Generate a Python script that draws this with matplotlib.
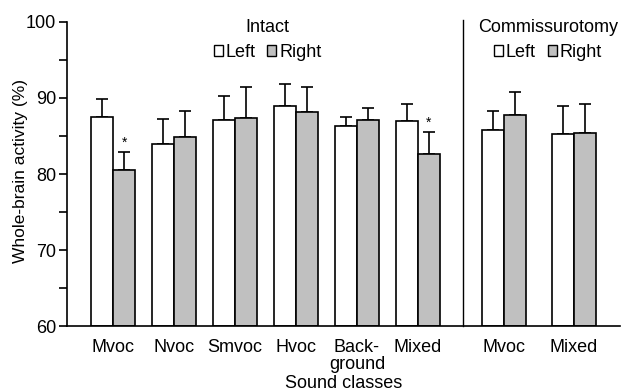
import matplotlib.pyplot as plt
from matplotlib.patches import Patch
from matplotlib.legend import Legend

plt.rcParams['font.family'] = ['Liberation Sans', 'DejaVu Sans']

# data
categories = ['Mvoc', 'Nvoc', 'Smvoc', 'Hvoc', 'Back-\nground', 'Mixed', 'Mvoc', 'Mixed']
positions = [0, 1, 2, 3, 4, 5, 6.41, 7.56]
left_vals = [87.5, 84.0, 87.1, 89.0, 86.3, 87.0, 85.8, 85.3]
left_err = [2.4, 3.2, 3.2, 2.8, 1.2, 2.2, 2.5, 3.6]
right_vals = [80.5, 84.9, 87.4, 88.1, 87.1, 82.6, 87.8, 85.4]
right_err = [2.4, 3.4, 4.1, 3.3, 1.6, 2.9, 3.0, 3.8]
signif = [0, 5]

fs = 13
fig = plt.figure(figsize=(6.21, 3.92), dpi=100)
ax = fig.add_axes([0.108, 0.168, 0.89, 0.776])

w = 0.36
lpos = [p - w / 2 for p in positions]
rpos = [p + w / 2 for p in positions]
ax.bar(lpos, [v - 60 for v in left_vals], w, bottom=60, color='white', edgecolor='black', linewidth=1.2, zorder=2)
ax.bar(rpos, [v - 60 for v in right_vals], w, bottom=60, color='#c0c0c0', edgecolor='black', linewidth=1.2, zorder=2)
ax.errorbar(lpos, left_vals, yerr=[[0] * 8, left_err], fmt='none', ecolor='black', elinewidth=1.2, capsize=4, capthick=1.2, zorder=1)
ax.errorbar(rpos, right_vals, yerr=[[0] * 8, right_err], fmt='none', ecolor='black', elinewidth=1.2, capsize=4, capthick=1.2, zorder=1)

for i in signif:
    ax.text(rpos[i], right_vals[i] + right_err[i] + 0.3, '*', ha='center', va='bottom', fontsize=10)

# divider between intact and commissurotomy
ax.plot([5.74, 5.74], [60, 100.3], color='black', linewidth=1.0, clip_on=False)

ax.set_ylim(60, 100)
ax.set_xlim(-0.754, 8.31)
ax.set_yticks([60, 70, 80, 90, 100])
ax.set_yticks([65, 75, 85, 95], minor=True)
ax.set_xticks(positions)
ax.set_xticklabels(categories, fontsize=fs, linespacing=1.0)
ax.tick_params(axis='y', which='both', labelsize=fs, direction='out', length=6, width=1.2, pad=2)
ax.tick_params(axis='x', length=0, pad=9)
ax.spines['top'].set_visible(False)
ax.spines['right'].set_visible(False)
ax.spines['left'].set_linewidth(1.2)
ax.spines['bottom'].set_linewidth(1.2)
ax.set_ylabel('Whole-brain activity (%)', fontsize=12.5)
ax.yaxis.set_label_coords(-0.07, 0.51)
ax.set_xlabel('Sound classes', fontsize=fs, labelpad=2)

handles = [Patch(facecolor='white', edgecolor='black', label='Left'),
           Patch(facecolor='#c0c0c0', edgecolor='black', label='Right')]
for title, xc in [('Intact', 0.363), ('Commissurotomy', 0.870)]:
    leg = Legend(ax, handles, ['Left', 'Right'], title=title, ncol=2, frameon=False, fontsize=fs,
                 title_fontsize=fs, handlelength=0.5, handleheight=0.5,
                 handletextpad=0.15, columnspacing=0.65, borderpad=0, labelspacing=0.45,
                 loc='upper center', bbox_to_anchor=(xc, 1.04))
    ax.add_artist(leg)

fig.savefig('out.png', dpi=100)
